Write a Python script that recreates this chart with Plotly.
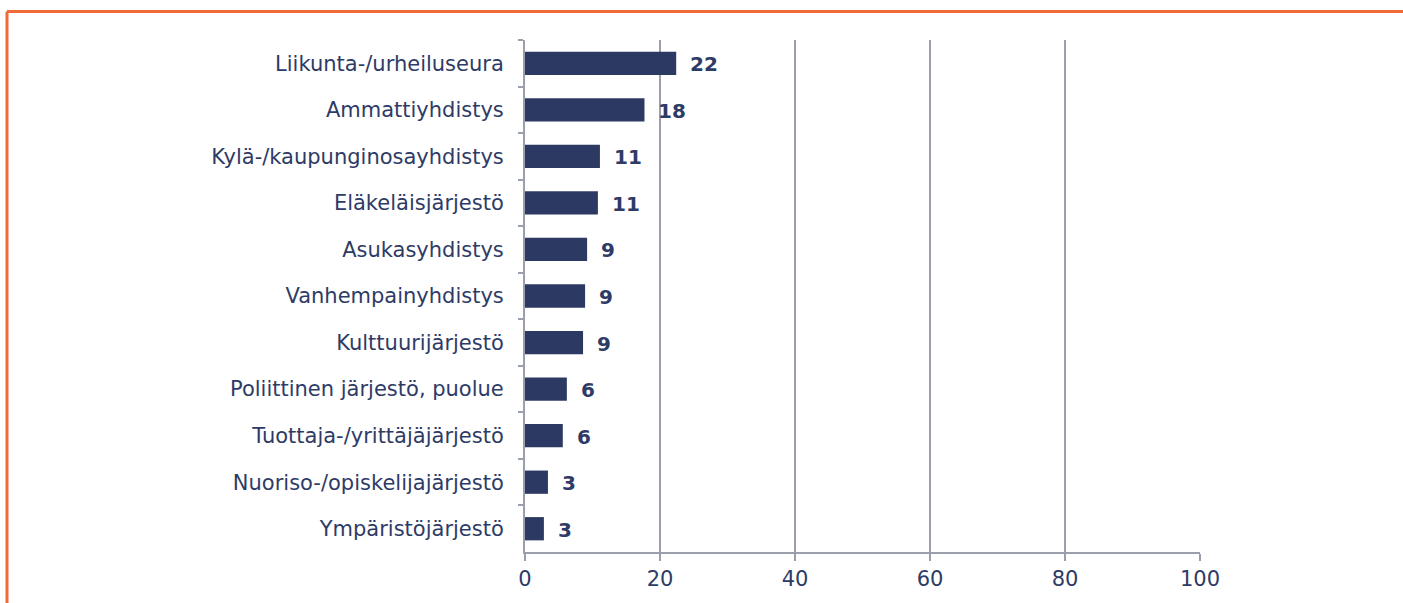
import plotly.graph_objects as go

categories = [
    "Liikunta-/urheiluseura",
    "Ammattiyhdistys",
    "Kylä-/kaupunginosayhdistys",
    "Eläkeläisjärjestö",
    "Asukasyhdistys",
    "Vanhempainyhdistys",
    "Kulttuurijärjestö",
    "Poliittinen järjestö, puolue",
    "Tuottaja-/yrittäjäjärjestö",
    "Nuoriso-/opiskelijajärjestö",
    "Ympäristöjärjestö",
]
values = [22.4, 17.7, 11.1, 10.8, 9.2, 8.9, 8.6, 6.2, 5.6, 3.4, 2.8]
x_ticks = [0, 20, 40, 60, 80, 100]

NAVY = "#2C3A63"
TEXT = "#2E3B66"
GRID = "#9A9EAD"
ORANGE = "#F26B36"
FONT = "DejaVu Sans"

W, H = 1403, 603
ML, MR, MT, MB = 525, 203, 40, 51

fig = go.Figure()
fig.add_trace(go.Bar(
    x=values,
    y=categories,
    orientation="h",
    marker=dict(color=NAVY, line=dict(width=0)),
    width=0.5,
    hoverinfo="x+y",
))

for c, v in zip(categories, values):
    fig.add_annotation(
        x=v, y=c, xref="x", yref="y",
        text="<b>%d</b>" % int(v + 0.5),
        showarrow=False, xanchor="left", yanchor="middle",
        xshift=12, yshift=-1,
        font=dict(family=FONT, size=20, color=TEXT),
    )

# orange frame (top and left edges visible)
pw = W - ML - MR
ph = H - MT - MB
x_left = (7 - ML) / pw
y_top = (H - MB - 11.5) / ph
fig.add_shape(type="line", xref="paper", yref="paper",
              x0=x_left, x1=(W + 10 - ML) / pw, y0=y_top, y1=y_top,
              line=dict(color=ORANGE, width=3))
fig.add_shape(type="line", xref="paper", yref="paper",
              x0=x_left, x1=x_left, y0=y_top, y1=-(MB + 10) / ph,
              line=dict(color=ORANGE, width=3))

fig.update_layout(
    width=W, height=H,
    margin=dict(l=ML, r=MR, t=MT, b=MB, pad=0),
    paper_bgcolor="white", plot_bgcolor="white",
    showlegend=False,
    bargap=0.5,
    font=dict(family=FONT, color=TEXT),
    xaxis=dict(
        range=[0, 100], tickvals=x_ticks, ticktext=[str(t) for t in x_ticks],
        showgrid=True, gridcolor=GRID, gridwidth=1.5,
        zeroline=False, showline=True, linecolor=GRID, linewidth=2,
        ticks="outside", ticklen=7, tickcolor=GRID, tickwidth=1.5,
        tickfont=dict(family=FONT, size=21, color=TEXT),
        fixedrange=True,
    ),
    yaxis=dict(
        autorange="reversed",
        showgrid=False, zeroline=False,
        showline=True, linecolor=GRID, linewidth=2,
        ticks="outside", tickson="boundaries", ticklen=5, tickcolor=GRID, tickwidth=1.5,
        tickfont=dict(family=FONT, size=21, color=TEXT),
        ticklabelstandoff=15,
        fixedrange=True,
    ),
)

fig.write_html(
    "out.html",
    config={"displayModeBar": False},
    post_script="document.body.style.margin='0';document.body.style.overflow='hidden';",
)
